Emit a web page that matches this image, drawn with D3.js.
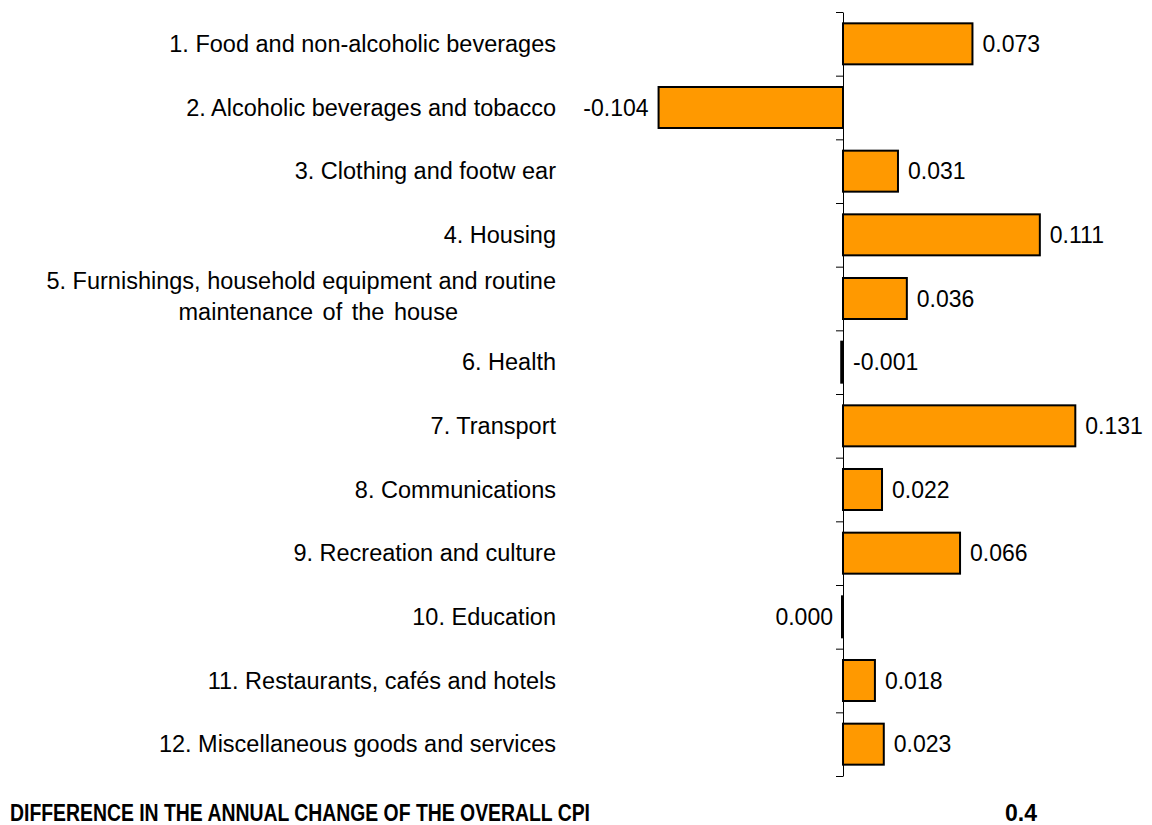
<!DOCTYPE html>
<html>
<head>
<meta charset="utf-8">
<script src="https://cdn.jsdelivr.net/npm/d3@7"></script>
<style>
  body { margin: 0; background: #fff; }
  text { font-family: "Liberation Sans", Arial, sans-serif; fill: #000; }
</style>
</head>
<body>
<div id="chart"></div>
<script>
const width = 1152;
const height = 825;

// categories and values
const categories = [
    "1. Food and non-alcoholic beverages",
    "2. Alcoholic beverages and tobacco",
    "3. Clothing and footw ear",
    "4. Housing",
    "5. Furnishings, household equipment and routine\nmaintenance of the house",
    "6. Health",
    "7. Transport",
    "8. Communications",
    "9. Recreation and culture",
    "10. Education",
    "11. Restaurants, caf\u00e9s and hotels",
    "12. Miscellaneous goods and services"
]
const values = [0.073, -0.104, 0.031, 0.111, 0.036, -0.001, 0.131, 0.022, 0.066, 0.000, 0.018, 0.023]

const totalLabel = "DIFFERENCE IN THE ANNUAL CHANGE OF THE OVERALL CPI"
const totalValue = 0.4

const data = categories.map((c, i) => ({ name: c, value: values[i] }))

const plotTop = 12, plotBottom = 776

const x = d3.scaleLinear()
    .domain([-0.15, 0.15])
    .range([577, 1109])

const y = d3.scaleBand()
    .domain(d3.range(categories.length))
    .range([plotTop, plotBottom])
    .paddingInner(0.356)
    .paddingOuter(0.178)

// linear helper for the tick marks at the band boundaries
const yEdges = d3.scaleLinear()
    .domain([0, categories.length])
    .range([plotTop, plotBottom])

// plain hyphen for the minus sign, like the original
const locale = d3.formatLocale({ decimal: ".", thousands: ",", grouping: [3], currency: ["", ""], minus: "-" })
const fmt = locale.format(".3f")

const svg = d3.select("#chart")
    .append("svg")
    .attr("width", width)
    .attr("height", height)

// axis at zero
svg.append("g")
    .attr("class", "y-axis")
    .attr("transform", "translate(" + x(0) + ",0)")
    .call(d3.axisLeft(yEdges)
        .tickValues(d3.range(categories.length + 1))
        .tickSize(7)
        .tickSizeOuter(0)
        .tickFormat(""))
    .call(g => g.selectAll("line, path").attr("stroke", "#000").attr("stroke-width", 1))

// bars (tiny ones still get a visible outline)
svg.selectAll("rect.bar")
    .data(data)
    .enter()
    .append("rect")
        .attr("class", "bar")
        .attr("x", d => Math.min(x(0), x(d.value)) - (d.value === 0 ? 1 : 0))
        .attr("y", (d, i) => y(i))
        .attr("width", d => Math.max(1, Math.abs(x(d.value) - x(0))))
        .attr("height", y.bandwidth())
        .attr("fill", "#ff9900")
        .attr("stroke", "#000")
        .attr("stroke-width", 2)

// value labels
const onLeft = d => d.value < -0.005 || d.value === 0
svg.selectAll("text.val")
    .data(data)
    .enter()
    .append("text")
        .attr("class", "val")
        .attr("x", d => onLeft(d) ? Math.min(x(0), x(d.value)) - 10 : Math.max(x(0), x(d.value)) + 10)
        .attr("y", (d, i) => y(i) + y.bandwidth() / 2)
        .attr("dy", "0.35em")
        .attr("text-anchor", d => onLeft(d) ? "end" : "start")
        .attr("font-size", 23)
        .text(d => fmt(d.value))

// category labels
const labelSize = 23.5
const labels = svg.selectAll("text.cat")
    .data(data)
    .enter()
    .append("text")
        .attr("class", "cat")
        .attr("font-size", labelSize)
        .attr("text-anchor", "end")

labels.each(function (d, i) {
    const lines = d.name.split("\n")
    const t = d3.select(this)
    const cy = y(i) + y.bandwidth() / 2
    const lh = 31
    if (lines.length === 1) {
        t.append("tspan").attr("x", 556).attr("y", cy).attr("dy", "0.35em").text(lines[0])
    } else {
        const first = t.append("tspan").attr("x", 556).attr("y", cy - lh / 2 - 2).attr("dy", "0.35em").text(lines[0])
        const w = first.node().getComputedTextLength()
        svg.append("text")
            .attr("font-size", labelSize)
            .attr("text-anchor", "middle")
            .attr("x", 556 - w / 2 + 17)
            .attr("y", cy + lh / 2 - 2)
            .attr("dy", "0.35em")
            .attr("word-spacing", 3)
            .text(lines.slice(1).join(" "))
    }
})

// overall line at the bottom
svg.append("text")
    .attr("x", 10)
    .attr("y", 821)
    .attr("font-size", 23)
    .attr("font-weight", "bold")
    .attr("textLength", 580)
    .attr("lengthAdjust", "spacingAndGlyphs")
    .text(totalLabel)

svg.append("text")
    .attr("x", 1005)
    .attr("y", 821)
    .attr("font-size", 23)
    .attr("font-weight", "bold")
    .text(d3.format(".1f")(totalValue))
</script>
</body>
</html>
